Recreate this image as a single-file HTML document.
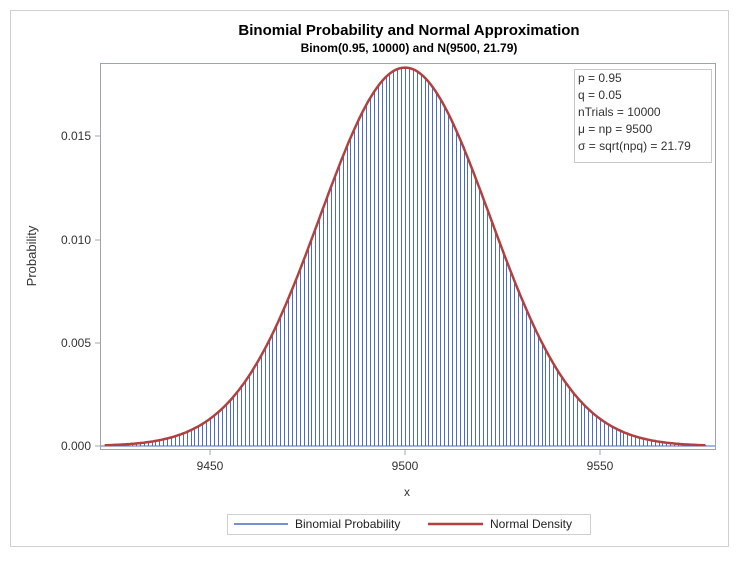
<!DOCTYPE html>
<html><head><meta charset="utf-8"><style>
body{margin:0;background:#fff;width:749px;height:563px;overflow:hidden}
svg{font-family:"Liberation Sans",Arial,sans-serif}
</style></head><body>
<svg id="s" width="749" height="563" xmlns="http://www.w3.org/2000/svg">
<rect x="10.5" y="10.5" width="718" height="536" fill="#fff" stroke="#d0d0d0"/>
<text x="409" y="35" font-size="15" font-weight="bold" text-anchor="middle" fill="#000">Binomial Probability and Normal Approximation</text>
<text x="409" y="52" font-size="12" font-weight="bold" text-anchor="middle" fill="#000">Binom(0.95, 10000) and N(9500, 21.79)</text>
<g id="bars" fill="#4a6cc8" stroke="none"></g>
<line x1="100" y1="446" x2="716" y2="446" stroke="#4a6cc0" stroke-width="1"/>
<path id="curve" fill="none" stroke="#b0413e" stroke-width="2.5"/>
<rect x="100.5" y="63.5" width="615" height="386" fill="none" stroke="#a0a4aa"/>
<g stroke="#a0a4aa">
<line x1="95" y1="446" x2="100" y2="446"/><line x1="95" y1="343" x2="100" y2="343"/><line x1="95" y1="240" x2="100" y2="240"/><line x1="95" y1="136" x2="100" y2="136"/>
<line x1="210" y1="450" x2="210" y2="455"/><line x1="405" y1="450" x2="405" y2="455"/><line x1="600" y1="450" x2="600" y2="455"/>
</g>
<g font-size="12" fill="#333" text-anchor="end">
<text x="91" y="450">0.000</text><text x="91" y="347">0.005</text><text x="91" y="244">0.010</text><text x="91" y="140">0.015</text>
</g>
<g font-size="12" fill="#333" text-anchor="middle">
<text x="210" y="470">9450</text><text x="405" y="470">9500</text><text x="600" y="470">9550</text>
<text x="407" y="496">x</text>
</g>
<text transform="translate(36,256) rotate(-90)" font-size="13" fill="#333" text-anchor="middle">Probability</text>
<rect x="574.5" y="69.5" width="137" height="93" fill="#fff" stroke="#c8c8c8"/>
<g font-size="12" fill="#333">
<text x="578" y="82">p = 0.95</text><text x="578" y="99">q = 0.05</text><text x="578" y="116">nTrials = 10000</text><text x="578" y="133">μ = np = 9500</text><text x="578" y="150">σ = sqrt(npq) = 21.79</text>
</g>
<rect x="227.5" y="514.5" width="363" height="20" fill="#fff" stroke="#d0d0d0"/>
<line x1="234" y1="524" x2="288" y2="524" stroke="#4a6cc0" stroke-width="1.5"/>
<line x1="428" y1="524" x2="483" y2="524" stroke="#b0413e" stroke-width="2.5"/>
<g font-size="12" fill="#222"><text x="295" y="528">Binomial Probability</text><text x="490" y="528">Normal Density</text></g>
</svg>
<script>
var sx=function(v){return 405+(v-9500)*3.9},sy=function(p){return 446-p*20670};
var s=21.79,f=function(x){return Math.exp(-0.5*Math.pow((x-9500)/s,2))/(s*Math.sqrt(2*Math.PI))};
var g=document.getElementById('bars'),h='';
for(var k=9423;k<=9577;k++){var x=Math.round(sx(k));var y=Math.round(sy(f(k)));h+='<rect x="'+x+'" y="'+y+'" width="1" height="'+(446-y)+'"/>';}
g.innerHTML=h;
var d='';for(var x=9423;x<=9577;x+=0.5){d+=(d?'L':'M')+sx(x).toFixed(1)+','+sy(f(x)).toFixed(1);}
document.getElementById('curve').setAttribute('d',d);
</script>
</body></html>
